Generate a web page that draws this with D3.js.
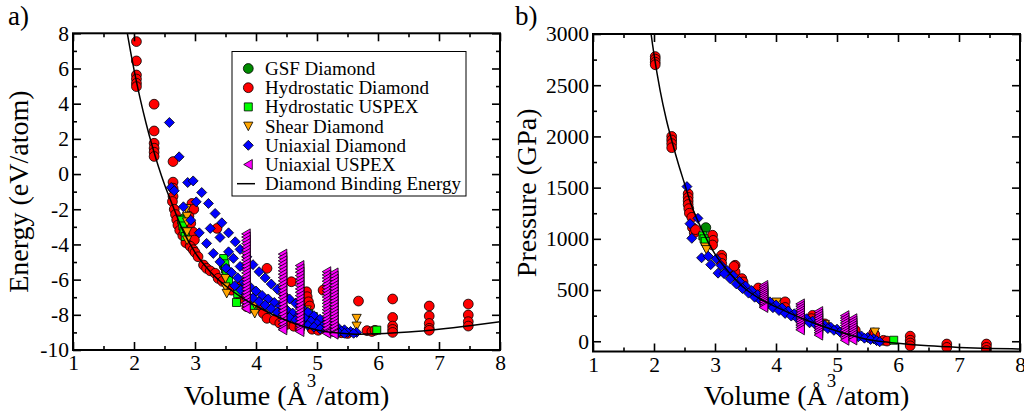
<!DOCTYPE html>
<html><head><meta charset="utf-8">
<script src="https://cdn.jsdelivr.net/npm/d3@7"></script>
<style>
body{margin:0;background:#fff}
svg text{font-family:"Liberation Serif","Times New Roman",serif;fill:#000}
</style>
</head><body>
<svg id="c" width="1024" height="414"></svg>
<script>
// ---------- tick values ----------
const xTicks = [1,2,3,4,5,6,7,8];
const xMinor = [1.5,2.5,3.5,4.5,5.5,6.5,7.5];
const energyTicks = [-10,-8,-6,-4,-2,0,2,4,6,8];
const energyMinor = [-9,-7,-5,-3,-1,1,3,5,7];
const pressureTicks = [0,500,1000,1500,2000,2500,3000];
const pressureMinor = [250,750,1250,1750,2250,2750];
const legendLabels = ["GSF Diamond","Hydrostatic Diamond","Hydrostatic USPEX","Shear Diamond","Uniaxial Diamond","Uniaxial USPEX","Diamond Binding Energy"];

// ---------- Diamond binding energy / pressure curve ----------
const curveV = [1.85,1.9,2.0,2.1,2.2,2.3,2.4,2.5,2.6,2.8,3.0,3.25,3.5,3.75,4.0,4.5,5.0,5.5,5.7,6.0,6.5,7.0,7.5,8.0];
const curveE = [8.86,7.81,5.94,4.30,2.86,1.58,0.43,-0.59,-1.49,-3.2,-4.45,-5.55,-6.35,-6.98,-7.5,-8.32,-8.86,-9.07,-9.1,-9.08,-8.98,-8.82,-8.62,-8.39];
const curveP = [3520,3250,2800,2450,2170,1940,1730,1540,1350,1070,850,660,510,410,335,205,100,18,0,-20,-45,-60,-70,-75];

// ---------- panel a) energy data [V, E] ----------
const gsfE = [[2.83,-2.50],[2.85,-3.00],[3.48,-5.25]];
const hydroDiamondE = [
 [2.04,7.53],[2.04,6.43],[2.04,5.63],[2.04,5.40],[2.04,5.16],[2.04,4.97],
 [2.33,3.97],[2.33,2.45],[2.33,1.75],[2.33,1.47],[2.33,1.24],[2.33,1.00],
 [2.64,0.71],[2.64,-0.46],[2.64,-0.80],[2.64,-1.27],[2.63,-1.56],[2.66,-2.0],[2.68,-2.3],[2.70,-2.6],
 [2.95,-1.67],[2.98,-2.0],[2.90,-2.4],[2.93,-2.8],[2.97,-3.3],[2.99,-3.75],
 [2.72,-2.9],[2.75,-3.2],[2.80,-3.5],[2.85,-3.9],[2.92,-4.1],[2.97,-4.3],[3.00,-4.45],
 [3.05,-4.7],[3.14,-5.17],[3.19,-5.36],[3.25,-5.5],[3.33,-5.64],[3.38,-5.93],[3.45,-6.1],
 [3.36,-3.09],
 [3.55,-6.4],[3.60,-6.6],[3.74,-6.41],[3.74,-6.78],[3.76,-7.07],[3.85,-7.54],[4.01,-7.54],[4.12,-7.92],[4.18,-8.2],
 [4.18,-5.36],
 [4.30,-8.3],[4.39,-8.48],[4.50,-8.55],[4.58,-6.12],[4.62,-8.65],[4.72,-8.75],
 [4.83,-6.69],[4.84,-6.97],[4.86,-7.26],[4.88,-7.5],[4.92,-8.82],[5.02,-8.88],
 [5.10,-6.6],[5.20,-8.95],[5.40,-9.02],[5.50,-9.06],
 [5.68,-7.22],[5.82,-8.9],[5.90,-8.95],[5.95,-8.88],
 [6.24,-7.10],[6.24,-8.15],[6.24,-8.64],[6.24,-8.83],[6.24,-9.0],
 [6.84,-7.50],[6.84,-8.07],[6.84,-8.49],[6.84,-8.77],[6.84,-8.88],
 [7.48,-7.39],[7.48,-8.01],[7.48,-8.39],[7.48,-8.64]
];
const hydroUspexE = [[2.78,-2.62],[2.80,-2.95],[2.82,-3.25],[2.84,-3.55],[3.47,-4.80],[3.49,-5.10],[3.50,-5.40],[3.52,-5.70],[3.55,-6.05],[3.70,-6.50],[3.70,-6.80],[3.68,-7.30],[3.95,-7.65],[4.86,-7.92],[4.94,-8.10],[5.98,-8.87]];
const shearE = [[2.86,-1.96],[2.87,-2.40],[2.87,-2.72],[2.87,-3.28],[2.87,-3.75],[3.50,-5.93],[3.50,-6.41],[3.52,-6.78],[3.98,-7.40],[3.98,-7.92],[4.83,-7.73],[4.83,-8.10],[5.65,-8.20],[5.65,-8.64]];
const uniDiamondE = [
 [2.58,2.93],[2.74,0.98],[2.88,-0.48],[2.97,-0.39],[2.61,-0.76],[2.66,-0.95],[3.11,-1.05],
 [2.81,-1.86],[3.02,-1.58],[3.22,-1.67],
 [2.93,-2.62],[3.33,-2.24],[3.44,-2.77],
 [3.07,-3.34],[3.25,-3.09],[3.55,-3.34],
 [3.19,-3.94],[3.41,-3.60],[3.66,-3.85],
 [3.30,-4.51],[3.55,-4.42],[3.74,-4.28],
 [3.41,-4.99],[3.63,-4.79],[3.74,-5.25],
 [3.85,-4.70],[3.95,-5.15],[4.05,-5.55],[4.15,-5.90],[4.25,-6.25],[4.35,-6.55],[4.45,-6.85],[4.55,-7.10],[4.65,-7.35],[4.75,-7.60],[4.85,-7.85],[4.95,-8.05],[5.05,-8.25],[5.15,-8.45],[5.25,-8.60],[5.35,-8.75],[5.45,-8.85],[5.55,-8.95],[5.65,-9.00],
 [3.51,-5.36],[3.60,-5.60],[3.70,-5.90],[3.80,-6.15],[3.90,-6.40],[4.00,-6.65],[4.10,-6.90],[4.20,-7.10],[4.30,-7.30],[4.40,-7.50],[4.50,-7.70],[4.60,-7.90],[4.70,-8.05],[4.80,-8.20],[4.90,-8.35],[5.00,-8.50],[5.10,-8.62],[5.20,-8.74],[5.30,-8.85],[5.40,-8.93],[5.50,-9.00],[5.60,-9.05],
 [3.65,-6.35],[3.75,-6.60],[3.85,-6.85],[3.95,-7.05],[4.05,-7.25],[4.15,-7.45],[4.25,-7.65],[4.35,-7.85],[4.45,-8.00],[4.55,-8.15],[4.65,-8.30],[4.75,-8.45],[4.85,-8.60],[4.95,-8.70],[5.05,-8.80],[5.15,-8.88],[5.25,-8.95],[5.35,-9.00],[5.45,-9.05]
];
const uniUspexEV = [3.84,4.44,4.72,5.16,5.28];
const uniUspexEStacks = [
 [-3.40,-3.58,-3.77,-3.95,-4.14,-4.32,-4.51,-4.70,-4.88,-5.07,-5.25,-5.44,-5.62,-5.81,-6.00,-6.18,-6.37,-6.55,-6.74,-6.92,-7.11,-7.30,-7.48,-7.65],
 [-4.55,-4.74,-4.93,-5.12,-5.31,-5.50,-5.69,-5.88,-6.07,-6.26,-6.45,-6.64,-6.83,-7.02,-7.21,-7.40,-7.59,-7.78,-7.97,-8.16,-8.35,-8.54,-8.73,-8.85],
 [-5.20,-5.39,-5.58,-5.77,-5.96,-6.15,-6.34,-6.53,-6.72,-6.91,-7.10,-7.29,-7.48,-7.67,-7.86,-8.05,-8.24,-8.43,-8.62,-8.81,-8.95],
 [-5.55,-5.73,-5.91,-6.09,-6.27,-6.45,-6.63,-6.81,-6.99,-7.17,-7.35,-7.53,-7.71,-7.89,-8.07,-8.25,-8.43,-8.61,-8.79,-8.97,-9.05],
 [-5.62,-5.80,-5.98,-6.16,-6.34,-6.52,-6.70,-6.88,-7.06,-7.24,-7.42,-7.60,-7.78,-7.96,-8.14,-8.32,-8.50,-8.68,-8.86,-9.04,-9.10]
];

// ---------- panel b) pressure data [V, P] ----------
const gsfP = [[2.85,1110]];
const hydroDiamondP = [
 [2.02,2780],[2.02,2755],[2.02,2725],[2.02,2700],
 [2.29,2000],[2.29,1965],[2.29,1930],[2.29,1890],
 [2.56,1440],[2.56,1405],[2.56,1370],[2.56,1335],[2.57,1295],[2.58,1250],
 [2.62,1210],[2.63,1110],[2.66,1060],[2.68,1090],
 [2.96,1035],[2.97,985],[2.96,940],
 [3.11,840],[3.11,808],[3.11,760],
 [3.33,742],[3.33,677],[3.31,731],
 [3.44,612],[3.46,579],[3.71,520],
 [4.15,385],[4.15,330],[4.60,253],[4.58,221],[4.80,170],
 [5.30,107],[5.60,80],[5.62,65],[5.76,9],[5.82,2],
 [6.20,50],[6.20,10],[6.20,-17],[6.20,-45],
 [6.80,-27],[6.80,-60],
 [7.45,-27],[7.45,-60],[7.45,-90]
];
const hydroUspexP = [[2.80,1030],[2.82,1000],[2.84,975],[5.93,10]];
const shearP = [[2.84,920],[2.86,895],[4.01,383],[4.80,165],[5.62,90]];
const uniDiamondP = [
 [2.54,1510],[2.59,1148],[2.62,1005],[2.72,1200],[2.78,815],[2.89,830],[2.93,748],[3.02,805],[3.05,665],
 [3.10,740],[3.20,690],[3.30,640],[3.40,585],[3.50,540],[3.60,495],[3.70,455],[3.80,420],[3.90,385],[4.00,355],[4.10,325],[4.20,295],[4.30,268],[4.40,243],[4.50,220],[4.60,197],[4.70,176],[4.80,156],[4.90,137],[5.00,118],[5.10,100],[5.20,84],[5.30,68],[5.40,52],[5.50,37],[5.60,24],
 [3.15,660],[3.25,610],[3.35,560],[3.45,515],[3.55,470],[3.65,430],[3.75,395],[3.85,360],[3.95,328],[4.05,300],[4.15,272],[4.25,246],[4.35,222],[4.45,200],[4.55,180],[4.65,160],[4.75,142],[4.85,124],[4.95,107],[5.05,90],[5.15,74],[5.25,58],[5.35,44],[5.45,30],[5.55,17],[5.65,6],[5.70,-5]
];
const uniUspexPV = [3.80,4.40,4.70,5.13,5.26];
const uniUspexPStacks = [
 [545,525,505,485,465,445,425,405,385,365,345,330],
 [365,342,319,296,273,250,227,204,181,158,135,112],
 [290,267,244,221,198,175,152,129,106,83,60],
 [250,226,202,178,154,130,106,82,58,34,10],
 [220,197,174,151,128,105,82,59,36,13]
];

const uniUspexE = uniUspexEV.flatMap((v,i)=>uniUspexEStacks[i].map(e=>[v,e]));
const uniUspexP = uniUspexPV.flatMap((v,i)=>uniUspexPStacks[i].map(p=>[v,p]));

// ---------- styles ----------
const shapes = {
  square:"M-4,-4H4V4H-4Z",
  diamond:"M0,-5L5,0L0,5L-5,0Z",
  triDown:"M-4.6,-4L4.6,-4L0,4.6Z",
  triLeft:"M-4.6,0L4,-5L4,5Z"
};
const seriesStyle = [
  {shape:"circle", fill:"#008b00"},
  {shape:"circle", fill:"#ff0000"},
  {shape:"square", fill:"#00ff00"},
  {shape:"triDown", fill:"#ffa500"},
  {shape:"diamond", fill:"#0000ff"},
  {shape:"triLeft", fill:"#ff00ff"}
];
const energySets = [gsfE, hydroDiamondE, hydroUspexE, shearE, uniDiamondE, uniUspexE];
const pressureSets = [gsfP, hydroDiamondP, hydroUspexP, shearP, uniDiamondP, uniUspexP];

const svg = d3.select("#c");
const FONT = '"Liberation Serif","Times New Roman",serif';

function drawMarker(g, st, x, y){
  if(st.shape==="circle"){
    g.append("circle").attr("cx",x).attr("cy",y).attr("r",4.9)
     .attr("fill",st.fill).attr("stroke","#000").attr("stroke-width",0.8);
  } else {
    g.append("path").attr("d",shapes[st.shape]).attr("transform",`translate(${x},${y})`)
     .attr("fill",st.fill).attr("stroke","#000").attr("stroke-width",0.8);
  }
}

function panel(id, box, x, y, yTicks, yMinor, sets, curveY){
  const g = svg.append("g");
  g.append("clipPath").attr("id",id).append("rect")
   .attr("x",box.l).attr("y",box.t).attr("width",box.r-box.l).attr("height",box.b-box.t);
  const data = g.append("g").attr("clip-path",`url(#${id})`);
  sets.forEach((set,i)=>{
    const sg = data.append("g");
    set.forEach(d=>drawMarker(sg, seriesStyle[i], x(d[0]), y(d[1])));
  });
  const line = d3.line().x((d,i)=>x(curveV[i])).y(d=>y(d)).curve(d3.curveMonotoneX);
  data.append("path").attr("d",line(curveY)).attr("fill","none").attr("stroke","#000").attr("stroke-width",1.5);

  const style = s => s.call(a=>a.select(".domain").remove())
      .attr("font-size",21.5).attr("font-family",FONT)
      .call(a=>a.selectAll(".tick line").attr("stroke","#000").attr("stroke-width",1.6))
      .call(a=>a.selectAll(".tick text").attr("fill","#000"));
  const fmt = d=>String(d);
  g.append("g").attr("transform",`translate(0,${box.b})`)
   .call(d3.axisBottom(x).tickValues(xTicks).tickSize(-8).tickPadding(5).tickFormat(fmt)).call(style);
  g.append("g").attr("transform",`translate(0,${box.b})`)
   .call(d3.axisBottom(x).tickValues(xMinor).tickSize(-4).tickFormat("")).call(style);
  g.append("g").attr("transform",`translate(0,${box.t})`)
   .call(d3.axisTop(x).tickValues(xTicks).tickSize(-8).tickFormat("")).call(style);
  g.append("g").attr("transform",`translate(0,${box.t})`)
   .call(d3.axisTop(x).tickValues(xMinor).tickSize(-4).tickFormat("")).call(style);
  g.append("g").attr("transform",`translate(${box.l},0)`)
   .call(d3.axisLeft(y).tickValues(yTicks).tickSize(-8).tickPadding(4).tickFormat(fmt)).call(style);
  g.append("g").attr("transform",`translate(${box.l},0)`)
   .call(d3.axisLeft(y).tickValues(yMinor).tickSize(-4).tickFormat("")).call(style);
  g.append("g").attr("transform",`translate(${box.r},0)`)
   .call(d3.axisRight(y).tickValues(yTicks).tickSize(-8).tickFormat("")).call(style);
  g.append("g").attr("transform",`translate(${box.r},0)`)
   .call(d3.axisRight(y).tickValues(yMinor).tickSize(-4).tickFormat("")).call(style);
  g.append("rect").attr("x",box.l).attr("y",box.t).attr("width",box.r-box.l).attr("height",box.b-box.t)
   .attr("fill","none").attr("stroke","#000").attr("stroke-width",2);
  return g;
}

const boxA = {l:73, r:500, t:33.3, b:350};
const boxB = {l:593, r:1020, t:34, b:351.5};
const xE = d3.scaleLinear().domain([1,8]).range([boxA.l, boxA.r]);
const yE = d3.scaleLinear().domain([-10,8]).range([boxA.b, boxA.t]);
const xP = d3.scaleLinear().domain([1,8]).range([boxB.l, boxB.r]);
const yP = d3.scaleLinear().domain([-100,3000]).range([boxB.b, boxB.t]);

panel("clipA", boxA, xE, yE, energyTicks, energyMinor, energySets, curveE);
panel("clipB", boxB, xP, yP, pressureTicks, pressureMinor, pressureSets, curveP);

// ---------- titles ----------
function volumeTitle(cx){
  const t = svg.append("text").attr("x",cx).attr("y",405).attr("text-anchor","middle").attr("font-size",28);
  t.append("tspan").text("Volume (Å");
  t.append("tspan").attr("dy",-18).attr("font-size",19).text("3");
  t.append("tspan").attr("dy",18).text("/atom)");
}
volumeTitle((boxA.l+boxA.r)/2);
volumeTitle((boxB.l+boxB.r)/2);
svg.append("text").attr("transform",`translate(28,${(boxA.t+boxA.b)/2}) rotate(-90)`)
  .attr("text-anchor","middle").attr("font-size",28).text("Energy (eV/atom)");
svg.append("text").attr("transform",`translate(536,${(boxB.t+boxB.b)/2}) rotate(-90)`)
  .attr("text-anchor","middle").attr("font-size",28).text("Pressure (GPa)");
svg.append("text").attr("x",8).attr("y",25).attr("font-size",27).text("a)");
svg.append("text").attr("x",515).attr("y",25).attr("font-size",27).text("b)");

// ---------- legend ----------
const lg = svg.append("g");
lg.append("rect").attr("x",232).attr("y",51.5).attr("width",234).attr("height",144.5)
  .attr("fill","#fff").attr("stroke","#000").attr("stroke-width",1);
legendLabels.forEach((name,i)=>{
  const cy = 68.5 + i*19.2;
  if(i<6) drawMarker(lg, seriesStyle[i], 248.3, cy);
  else lg.append("line").attr("x1",237).attr("x2",255).attr("y1",cy).attr("y2",cy).attr("stroke","#000").attr("stroke-width",1.5);
  lg.append("text").attr("x",265).attr("y",cy+6.5).attr("font-size",19).text(name);
});
</script>
</body></html>
